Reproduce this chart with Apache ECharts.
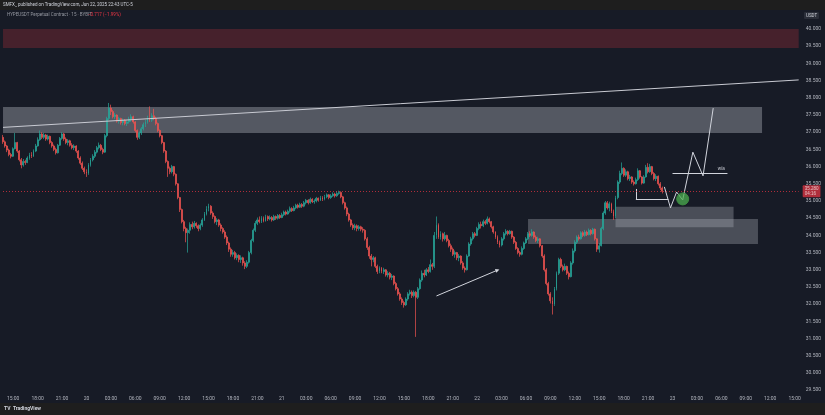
<!DOCTYPE html>
<html><head><meta charset="utf-8">
<script src="https://cdn.jsdelivr.net/npm/echarts@6/dist/echarts.min.js"></script>
<style>html,body{margin:0;padding:0;background:#171b26;} #c{width:825px;height:415px;}</style>
</head><body><div id="c"></div>
<script>
// HYPEUSDT 15m candles, from Jun 19 13:45 (slot 0) to Jun 22 22:45 (slot 324)
const firstOpen = 36.85;
const closes = [
36.72,36.60,36.48,36.35,36.30,36.52,36.70,36.45,36.20,36.05,
36.15,36.12,36.25,36.35,36.30,36.45,36.60,36.78,36.95,36.85,
36.92,36.80,36.88,36.70,36.60,36.50,36.40,36.62,36.82,36.95,
36.80,36.70,36.75,36.62,36.55,36.60,36.45,36.25,36.10,35.95,
35.85,35.80,36.05,36.20,36.30,36.42,36.55,36.62,36.50,36.42,
36.90,37.40,37.70,37.60,37.45,37.50,37.32,37.40,37.28,37.35,
37.25,37.30,37.38,37.45,37.30,37.05,36.85,36.98,37.10,37.22,
37.30,37.42,37.35,37.48,37.40,37.25,37.05,36.90,36.70,36.45,
36.15,35.95,35.85,36.00,35.78,35.50,35.10,34.75,34.40,34.20,
34.08,34.15,34.32,34.25,34.35,34.28,34.20,34.30,34.45,34.62,
34.78,34.85,34.65,34.55,34.40,34.45,34.30,34.20,34.10,33.95,
33.78,33.60,33.45,33.50,33.35,33.42,33.30,33.35,33.20,33.10,
33.22,33.50,33.85,34.15,34.35,34.45,34.40,34.50,34.42,34.55,
34.48,34.52,34.45,34.55,34.50,34.58,34.52,34.60,34.68,34.62,
34.70,34.78,34.72,34.80,34.88,34.82,34.90,34.85,34.95,35.02,
34.95,35.05,34.98,35.00,35.08,35.02,35.10,35.05,35.12,35.18,
35.10,35.15,35.20,35.15,35.22,35.25,35.12,34.95,34.80,34.62,
34.45,34.30,34.22,34.28,34.20,34.25,34.18,34.15,33.90,33.65,
33.40,33.30,33.35,33.10,32.95,33.05,32.95,33.00,32.85,32.90,
32.78,32.82,32.60,32.45,32.30,32.15,32.05,31.98,32.15,32.30,
32.35,32.25,32.35,32.20,32.45,32.70,32.90,32.85,33.00,32.95,
33.15,33.10,34.00,34.30,33.95,34.05,33.90,34.00,33.85,33.70,
33.60,33.45,33.50,33.35,33.40,33.20,33.05,33.00,33.40,33.75,
33.90,34.05,34.00,34.20,34.32,34.28,34.40,34.35,34.48,34.40,
34.25,34.10,33.95,33.80,33.72,33.90,34.05,34.12,34.05,34.12,
33.95,33.80,33.62,33.50,33.45,33.62,33.78,33.90,34.05,34.00,
34.10,33.95,33.85,33.90,33.70,33.40,33.00,32.60,32.30,32.10,
32.00,32.45,32.90,33.30,33.10,33.00,33.10,32.90,32.80,33.20,
33.55,33.80,33.95,33.90,34.08,34.00,34.10,34.02,34.15,34.05,
34.18,33.90,33.60,33.70,34.20,34.65,34.95,34.80,34.92,34.70,
34.55,35.10,35.55,35.80,35.95,35.75,35.85,35.65,35.70,35.55,
35.50,35.62,35.88,35.70,35.52,35.70,35.98,35.85,36.00,35.80,
35.65,35.72,35.50,35.38,35.28
];
const highs = [
36.92,36.76,36.63,36.52,36.40,36.56,36.98,36.72,36.48,36.25,
36.22,36.20,36.30,36.40,36.42,36.50,36.66,36.85,37.05,37.00,
36.98,36.95,36.93,36.90,36.74,36.64,36.55,36.66,36.86,37.00,
36.98,36.85,36.80,36.78,36.68,36.65,36.62,36.48,36.30,36.15,
36.00,35.92,36.10,36.25,36.36,36.48,36.60,36.70,36.66,36.55,
36.95,37.45,37.85,37.80,37.65,37.56,37.52,37.45,37.42,37.40,
37.38,37.35,37.45,37.52,37.48,37.32,37.08,37.02,37.15,37.28,
37.36,37.48,37.75,37.55,37.68,37.45,37.28,37.08,36.92,36.72,
36.48,36.18,36.00,36.05,36.02,35.80,35.52,35.12,34.78,34.45,
34.25,34.20,34.38,34.40,34.42,34.38,34.32,34.35,34.50,34.68,
34.85,34.92,34.88,34.70,34.58,34.50,34.48,34.35,34.24,34.15,
34.00,33.82,33.65,33.58,33.55,33.48,33.45,33.42,33.38,33.25,
33.28,33.55,33.90,34.20,34.42,34.52,34.55,34.56,34.55,34.60,
34.58,34.58,34.56,34.60,34.58,34.62,34.62,34.66,34.72,34.72,
34.75,34.84,34.82,34.86,34.92,34.92,34.95,34.94,35.00,35.06,
35.05,35.10,35.08,35.05,35.12,35.10,35.15,35.14,35.18,35.22,
35.20,35.20,35.25,35.24,35.28,35.30,35.28,35.15,34.98,34.84,
34.66,34.48,34.35,34.34,34.32,34.30,34.28,34.24,34.18,33.95,
33.70,33.46,33.40,33.38,33.15,33.10,33.08,33.06,33.02,32.96,
32.94,32.88,32.84,32.65,32.50,32.35,32.20,32.10,32.20,32.35,
32.42,32.40,32.40,32.38,32.50,32.75,32.98,33.00,33.05,33.08,
33.30,33.20,34.10,34.55,34.35,34.12,34.08,34.10,34.02,33.90,
33.76,33.65,33.56,33.52,33.46,33.42,33.25,33.10,33.45,33.80,
33.96,34.10,34.10,34.25,34.38,34.40,34.46,34.45,34.55,34.52,
34.42,34.28,34.12,34.00,33.85,33.95,34.10,34.18,34.15,34.16,
34.14,33.98,33.84,33.66,33.55,33.68,33.82,33.95,34.10,34.12,
34.18,34.12,34.00,33.96,33.92,33.72,33.45,33.05,32.65,32.35,
32.20,32.50,32.95,33.35,33.35,33.15,33.18,33.12,32.95,33.25,
33.62,33.86,34.00,34.02,34.12,34.12,34.16,34.14,34.20,34.18,
34.22,34.20,33.92,33.78,34.25,34.70,35.00,35.00,34.98,34.95,
34.75,35.15,35.60,35.88,36.12,35.98,35.92,35.88,35.76,35.72,
35.60,35.68,35.95,35.90,35.72,35.75,36.05,36.10,36.08,36.02,
35.84,35.78,35.74,35.55,35.42
];
const lows = [
36.66,36.55,36.42,36.30,36.24,36.28,36.50,36.40,36.15,35.95,
36.00,36.05,36.10,36.20,36.25,36.28,36.42,36.58,36.75,36.80,
36.80,36.75,36.76,36.65,36.55,36.45,36.35,36.38,36.60,36.78,
36.75,36.65,36.62,36.58,36.50,36.48,36.40,36.20,36.05,35.90,
35.78,35.70,35.76,36.00,36.15,36.25,36.38,36.50,36.45,36.36,
36.40,36.85,37.35,37.50,37.40,37.38,37.28,37.25,37.22,37.20,
37.20,37.18,37.25,37.30,37.25,37.00,36.78,36.80,36.92,37.05,
37.15,37.25,37.30,37.30,37.35,37.20,37.00,36.85,36.65,36.40,
36.10,35.70,35.78,35.80,35.72,35.45,35.05,34.68,34.35,34.12,
33.80,33.50,34.05,34.18,34.20,34.22,34.12,34.15,34.25,34.42,
34.58,34.70,34.60,34.48,34.35,34.30,34.25,34.12,34.05,33.90,
33.72,33.52,33.38,33.38,33.30,33.28,33.22,33.20,33.12,33.02,
33.05,33.18,33.45,33.80,34.10,34.30,34.35,34.36,34.38,34.40,
34.42,34.44,34.40,34.42,34.45,34.46,34.48,34.50,34.56,34.58,
34.60,34.66,34.68,34.70,34.76,34.78,34.80,34.80,34.82,34.90,
34.90,34.92,34.94,34.92,34.96,34.98,35.00,35.00,35.02,35.08,
35.05,35.06,35.12,35.10,35.12,35.18,35.08,34.90,34.75,34.56,
34.40,34.25,34.16,34.15,34.12,34.14,34.12,34.08,33.85,33.58,
33.32,33.10,33.22,33.05,32.88,32.90,32.90,32.88,32.80,32.78,
32.72,32.70,32.55,32.40,32.25,32.10,31.98,31.90,31.95,32.10,
32.25,32.18,32.20,31.05,32.15,32.42,32.65,32.78,32.82,32.90,
32.92,33.00,33.05,33.90,33.90,33.88,33.82,33.85,33.80,33.65,
33.52,33.40,33.35,33.28,33.25,33.15,33.00,32.92,32.98,33.38,
33.70,33.85,33.94,33.98,34.15,34.20,34.24,34.30,34.32,34.35,
34.20,34.05,33.90,33.75,33.65,33.68,33.85,34.00,34.00,34.02,
33.90,33.75,33.58,33.45,33.38,33.42,33.58,33.75,33.86,33.95,
33.96,33.90,33.80,33.78,33.65,33.35,32.95,32.55,32.25,32.02,
31.70,31.95,32.40,32.85,33.05,32.95,32.96,32.85,32.72,32.78,
33.15,33.50,33.75,33.85,33.88,33.95,33.96,33.98,34.00,34.00,
34.02,33.85,33.52,33.50,33.68,34.15,34.60,34.75,34.70,34.65,
34.45,34.50,35.05,35.50,35.75,35.70,35.70,35.60,35.58,35.50,
35.45,35.48,35.58,35.65,35.48,35.50,35.68,35.80,35.82,35.75,
35.60,35.58,35.45,35.32,35.22
];
// time-axis tick labels, every 3 hours from Jun 19 15:00 to Jun 23 15:00
const tickLabels = ["15:00","18:00","21:00","20","03:00","06:00","09:00","12:00","15:00","18:00","21:00","21",
"03:00","06:00","09:00","12:00","15:00","18:00","21:00","22","03:00","06:00","09:00","12:00","15:00","18:00","21:00","23",
"03:00","06:00","09:00","12:00","15:00"];
const slotCount = 392;     // 15-minute slots shown on the time axis
const firstTickSlot = 5;   // slot of Jun 19 15:00
const slotsPerTick = 12;
const lastPrice = 35.28;
// zones: [slotFrom, slotTo, priceLow, priceHigh]
const supplyZone = [0, 391, 39.45, 40.00];
const rangeZone = [0, 373, 36.98, 37.73];
const demandZoneA = [301, 359, 34.24, 34.83];
const demandZoneB = [258, 371, 33.75, 34.48];
// lines: [slot, price] pairs
const trendLine = [[0, 37.14], [391, 38.52]];
const arrowLine = [[213, 32.24], [243, 32.99]];
const bracketV = [[311, 35.35], [311, 35.05]];
const bracketH = [[311, 35.05], [327, 35.05]];
const targetLine = [[329, 35.81], [356, 35.81]];
const projection = [[325, 35.41], [328, 34.80], [331, 35.26], [334, 35.03], [339, 36.42], [343.5, 35.73], [349, 37.70]];
const entryPoint = [334, 35.06];

const cats = [];
const start = Date.UTC(2025, 5, 19, 13, 45);
for (let i = 0; i < slotCount; i++) {
  const d = new Date(start + i * 15 * 60000);
  cats.push('Jun ' + d.getUTCDate() + ' ' + String(d.getUTCHours()).padStart(2, '0') + ':' + String(d.getUTCMinutes()).padStart(2, '0'));
}
const candles = closes.map((c, i) => [i === 0 ? firstOpen : closes[i - 1], c, lows[i], highs[i]]);

const zoneItem = (z, color) => [{ coord: [z[0], z[3]], itemStyle: { color: color } }, { coord: [z[1], z[2]] }];
const lineItem = (l, extra) => [Object.assign({ coord: l[0] }, extra || {}), { coord: l[1] }];

const chart = echarts.init(document.getElementById('c'), null, { renderer: 'canvas' });
const labelColor = '#b2b5be';
chart.setOption({
  backgroundColor: '#171b26',
  animation: false,
  grid: { left: 2, top: 11.8, width: 797.7, height: 378.4, outerBoundsMode: 'none' },
  xAxis: {
    type: 'category', data: cats, boundaryGap: true,
    axisLine: { show: false }, axisTick: { show: false }, splitLine: { show: false },
    axisLabel: {
      color: labelColor, fontSize: 5, margin: 6, fontFamily: 'Roboto',
      interval: (idx) => idx >= firstTickSlot && (idx - firstTickSlot) % slotsPerTick === 0,
      formatter: (v, idx) => tickLabels[(idx - firstTickSlot) / slotsPerTick] || ''
    }
  },
  yAxis: {
    type: 'value', position: 'right', min: 29.5, max: 40.5, interval: 0.5, scale: true,
    axisLine: { show: false }, axisTick: { show: false }, splitLine: { show: false },
    axisLabel: { color: labelColor, fontSize: 5, margin: 6, fontFamily: 'Roboto',
      formatter: (v) => v > 40.25 ? '' : v.toFixed(3) }
  },
  series: [
    {
      type: 'candlestick', data: candles, barWidth: 1.4,
      itemStyle: { color: '#26a69a', color0: '#ef5350', borderColor: '#26a69a', borderColor0: '#ef5350', borderWidth: 0.7 },
      markArea: {
        silent: true,
        data: [
          zoneItem(supplyZone, 'rgba(242,54,69,0.22)'),
          zoneItem(rangeZone, 'rgba(178,181,190,0.40)'),
          zoneItem(demandZoneB, 'rgba(178,181,190,0.33)'),
          zoneItem(demandZoneA, 'rgba(178,181,190,0.33)')
        ]
      },
      markLine: {
        silent: true, symbol: ['none', 'none'], animation: false,
        lineStyle: { color: '#d1d4dc', width: 1, type: 'solid' },
        label: { show: false },
        data: [
          lineItem(trendLine, { lineStyle: { color: '#c8cad2', width: 1, type: 'solid' } }),
          lineItem(arrowLine, { symbol: 'none', lineStyle: { color: '#d1d4dc', width: 1, type: 'solid' } }),
          lineItem(bracketV),
          lineItem(bracketH),
          lineItem(targetLine),
          [{ coord: [0, lastPrice], lineStyle: { color: '#f23645', width: 1, type: [1, 2], opacity: 0.7 },
             label: { show: true, position: 'end', distance: 4, formatter: lastPrice.toFixed(3) + '\n04:16',
               backgroundColor: '#f23645', color: '#fff', fontSize: 4.5, lineHeight: 5, padding: [1, 2], borderRadius: 1 } },
           { coord: [391, lastPrice] }]
        ]
      },
      markPoint: {
        silent: true,
        data: [
          { coord: entryPoint, symbol: 'circle', symbolSize: 12,
            itemStyle: { color: 'rgba(76,175,80,0.75)', borderColor: '#3d8b40', borderWidth: 1 }, label: { show: false } },
          { coord: [arrowLine[1][0], arrowLine[1][1]], symbol: 'triangle', symbolSize: 4, symbolRotate: -68,
            itemStyle: { color: '#d1d4dc' }, label: { show: false } },
          { coord: [353, 35.95], symbol: 'circle', symbolSize: 0,
            label: { show: true, formatter: 'w/a', color: '#d1d4dc', fontSize: 4.5, position: 'inside' } }
        ]
      }
    },
    {
      type: 'line', data: projection, symbol: 'none', silent: true,
      lineStyle: { color: '#d1d4dc', width: 1 }, z: 3
    }
  ],
  graphic: [
    { type: 'rect', shape: { x: 0, y: 0, width: 825, height: 10 }, style: { fill: '#1e1e1e' }, z: 100 },
    { type: 'text', x: 3, y: 2.5, style: { text: 'SMFX_ published on TradingView.com, Jun 22, 2025 22:43 UTC-5', fill: '#d1d4dc', fontSize: 4.5, fontFamily: 'Roboto' }, z: 101 },
    { type: 'text', x: 7, y: 12, style: { text: 'HYPEUSDT Perpetual Contract · 15 · BYBIT', fill: '#9598a1', fontSize: 4.5, fontFamily: 'Roboto' }, z: 101 },
    { type: 'text', x: 88, y: 12, style: { text: '−0.717 (−1.99%)', fill: '#f23645', fontSize: 4.5, fontFamily: 'Roboto' }, z: 101 },
    { type: 'rect', shape: { x: 804, y: 12, width: 15, height: 7, r: 1 }, style: { fill: '#2a2e39' }, z: 101 },
    { type: 'text', x: 806, y: 13.5, style: { text: 'USDT', fill: '#d1d4dc', fontSize: 4.5, fontFamily: 'Roboto' }, z: 102 },
    { type: 'rect', shape: { x: 0, y: 403, width: 825, height: 12 }, style: { fill: '#1e1e1e' }, z: 100 },
    { type: 'text', x: 4, y: 406, style: { text: 'TV  TradingView', fill: '#d1d4dc', fontSize: 5, fontWeight: 'bold', fontFamily: 'Roboto' }, z: 101 }
  ]
});
</script>
</body></html>
